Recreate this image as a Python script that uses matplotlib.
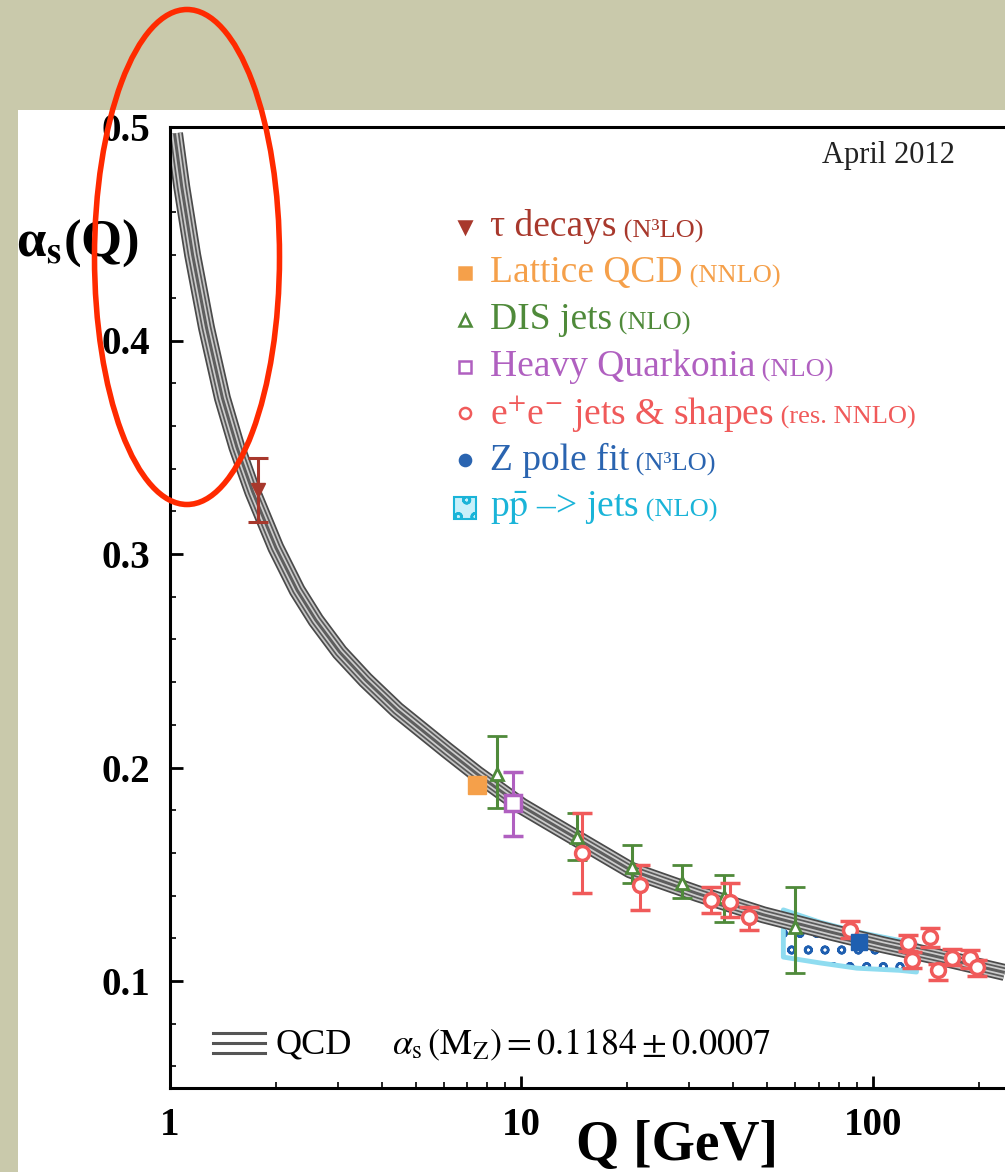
import matplotlib
matplotlib.use("Agg")
import matplotlib.pyplot as plt
from matplotlib.patches import Rectangle, Ellipse
from matplotlib.offsetbox import TextArea, HPacker, AnnotationBbox

plt.rcParams['font.family'] = ['Liberation Serif', 'DejaVu Serif']
plt.rcParams['mathtext.fontset'] = 'stix'
plt.rcParams['hatch.linewidth'] = 1.8

# QCD running coupling band
q_curve = [1.03, 1.08, 1.16, 1.27, 1.41, 1.55, 1.72, 2.0, 2.3, 2.6, 3.04, 3.6, 4.42,
           6.14, 7.47, 10.0, 11.8, 20.4, 31.6, 48.8, 75.4, 106.6, 147, 237]
a_curve = [0.497, 0.472, 0.440, 0.406, 0.373, 0.350, 0.329, 0.303, 0.283, 0.269, 0.254, 0.241, 0.227,
           0.208, 0.197, 0.182, 0.175, 0.152, 0.141, 0.131, 0.123, 0.117, 0.112, 0.104]

# measurements: Q, alpha_s, upper, lower
tau_q, tau_a, tau_hi, tau_lo = [1.78], [0.330], [0.345], [0.315]
lat_q, lat_a = [7.47], [0.192]
dis_q = [8.5, 14.4, 20.6, 28.6, 37.8, 60.1]
dis_a = [0.197, 0.1675, 0.1534, 0.146, 0.1393, 0.1253]
dis_hi = [0.2147, 0.1787, 0.1637, 0.1543, 0.1497, 0.144]
dis_lo = [0.181, 0.1567, 0.1459, 0.1389, 0.1276, 0.1037]
hq_q, hq_a, hq_hi, hq_lo = [9.46], [0.1834], [0.198], [0.168]
ee_q = [14.9, 21.8, 34.7, 39.2, 44.3, 86.1, 126, 129, 145, 153, 168, 189, 198]
ee_a = [0.160, 0.145, 0.138, 0.137, 0.130, 0.124, 0.1178, 0.110, 0.1206, 0.105, 0.111, 0.1108, 0.1066]
ee_hi = [0.1787, 0.1543, 0.144, 0.146, 0.1347, 0.128, 0.1215, 0.1135, 0.125, 0.108, 0.115, 0.1145, 0.110]
ee_lo = [0.1412, 0.1333, 0.1318, 0.130, 0.1239, 0.120, 0.114, 0.106, 0.116, 0.1005, 0.1075, 0.106, 0.1025]
z_q, z_a = [91.2], [0.1184]
pp_q = [55.6, 70.5, 90, 119, 133]
pp_hi = [0.1333, 0.1276, 0.123, 0.119, 0.117]
pp_lo = [0.1112, 0.1085, 0.106, 0.105, 0.1042]

legend_rows = [
    ("τ decays", " (N³LO)", "#a8382c"),
    ("Lattice QCD", " (NNLO)", "#f5a04a"),
    ("DIS jets", " (NLO)", "#4f8a3a"),
    ("Heavy Quarkonia", " (NLO)", "#b060c0"),
    (r"e$^{+}$e$^{-}$ jets & shapes", " (res. NNLO)", "#f05a5a"),
    ("Z pole fit", " (N³LO)", "#2a64b0"),
    (r"p$\bar{\rm p}$ –> jets", " (NLO)", "#1ab4d8"),
]

fig = plt.figure(figsize=(10.05, 11.72), dpi=100)
fig.patch.set_facecolor("#c9c9ab")
fig.patches.append(Rectangle((18 / 1005, 0), 1, 1 - 110 / 1172, transform=fig.transFigure,
                             facecolor="white", edgecolor="none", zorder=-10))

ax = fig.add_axes([170 / 1005, 1 - 1087.75 / 1172, 835 / 1005, 960.75 / 1172])
ax.set_xscale("log")
ax.set_xlim(1, 237.5)
ax.set_ylim(0.05, 0.5)

# pp -> jets band
ax.fill_between(pp_q, pp_lo, pp_hi, facecolor="white", edgecolor="#1f5fb0", hatch="o",
                linewidth=0, zorder=1)
ax.fill_between(pp_q, pp_lo, pp_hi, facecolor="none", edgecolor="#8fdcf0", linewidth=3.5, zorder=1)

# QCD band as striped stroke
for lw, c in [(17, "#4a4a4a"), (13.5, "#c4c4c4"), (10, "#5a5a5a"), (6.5, "#cccccc"), (3, "#5e5e5e")]:
    ax.plot(q_curve, a_curve, color=c, lw=lw * 0.72, solid_capstyle="butt",
            solid_joinstyle="round", zorder=2)

ekw = dict(elinewidth=2.2, capsize=7, capthick=2.2, zorder=4, linestyle="none")
ax.errorbar(tau_q, tau_a, yerr=[[a - l for a, l in zip(tau_a, tau_lo)], [h - a for a, h in zip(tau_a, tau_hi)]],
            fmt="v", color="#a8382c", ms=10, **ekw)
ax.plot(lat_q, lat_a, "s", color="#f5a04a", ms=13, mec="#f5a04a", zorder=4)
ax.errorbar(dis_q, dis_a, yerr=[[a - l for a, l in zip(dis_a, dis_lo)], [h - a for a, h in zip(dis_a, dis_hi)]],
            fmt="^", color="#4f8a3a", mfc="white", mew=2, ms=9, **ekw)
ax.errorbar(hq_q, hq_a, yerr=[[a - l for a, l in zip(hq_a, hq_lo)], [h - a for a, h in zip(hq_a, hq_hi)]],
            fmt="s", color="#b060c0", mfc="white", mew=2.5, ms=11, **ekw)
ax.errorbar(ee_q, ee_a, yerr=[[a - l for a, l in zip(ee_a, ee_lo)], [h - a for a, h in zip(ee_a, ee_hi)]],
            fmt="o", color="#f05a5a", mfc="white", mew=2.5, ms=10, **ekw)
ax.plot(z_q, z_a, "s", color="#1f5fb0", ms=11, zorder=5)

# axes styling
for s in ["left", "bottom", "top"]:
    ax.spines[s].set_linewidth(2.2)
ax.spines["right"].set_visible(False)
ax.set_yticks([0.1, 0.2, 0.3, 0.4, 0.5])
ax.set_yticks([0.06 + 0.02 * i for i in range(22) if abs((0.06 + 0.02 * i) * 10 % 1) > 1e-6], minor=True)
ax.set_xticks([1, 10, 100])
ax.set_xticklabels(["1", "10", "100"])
ax.set_yticklabels(["0.1", "0.2", "0.3", "0.4", "0.5"])
ax.tick_params(which="both", direction="in", top=False, right=False)
ax.tick_params(which="major", length=9, width=2, labelsize=28, pad=14)
ax.tick_params(which="minor", length=4.5, width=1.2)
for lab in ax.get_xticklabels() + ax.get_yticklabels():
    lab.set_fontweight("bold")

# legend
lx_mark, lx_text = (465 - 170) / 835, (490 - 170) / 835
row_y = [(1087.75 - y) / 960.75 for y in [227, 273, 320, 367, 413, 460, 508]]
mk = [("v", "#a8382c", "#a8382c"), ("s", "#f5a04a", "#f5a04a"), ("^", "white", "#4f8a3a"),
      ("s", "white", "#b060c0"), ("o", "white", "#f05a5a"), ("o", "#2a64b0", "#2a64b0")]
for (m, fc, ec), y in zip(mk, row_y):
    ax.plot([lx_mark], [y], m, transform=ax.transAxes, mfc=fc, mec=ec, mew=1.8, ms=8, zorder=6)
ax.add_patch(Rectangle((lx_mark - 0.013, row_y[6] - 0.011), 0.026, 0.022, transform=ax.transAxes,
                       facecolor="#c8f0fa", edgecolor="#1ab4d8", hatch="o", lw=1.5, zorder=6))
for (main, suf, c), y in zip(legend_rows, row_y):
    box = HPacker(children=[TextArea(main, textprops=dict(color=c, fontsize=27)),
                            TextArea(suf, textprops=dict(color=c, fontsize=19))],
                  align="baseline", pad=0, sep=0)
    ab = AnnotationBbox(box, (lx_text, y), xycoords="axes fraction", box_alignment=(0, 0.5),
                        frameon=False, pad=0)
    ax.add_artist(ab)

ax.text((888 - 170) / 835, (1087.75 - 156) / 960.75, "April 2012", transform=ax.transAxes,
        ha="center", va="center", fontsize=22, color="#222222")

# bottom key
for yy in [1033, 1043, 1053]:
    ax.plot([(213 - 170) / 835, (265 - 170) / 835], [(1087.75 - yy) / 960.75] * 2,
            transform=ax.transAxes, color="#555555", lw=2.2)
ax.text((275 - 170) / 835, (1087.75 - 1045) / 960.75, "QCD", transform=ax.transAxes,
        ha="left", va="center", fontsize=26)
ax.text((392 - 170) / 835, (1087.75 - 1045) / 960.75,
        r"$\alpha_{\rm s}\,({\rm M_Z}) = 0.1184 \pm 0.0007$", transform=ax.transAxes,
        ha="left", va="center", fontsize=26)

fig.text(16 / 1005, 1 - 243 / 1172, r"α$_{\mathbf{s}}$(Q)", fontsize=38, fontweight="bold",
         ha="left", va="center")
fig.text(677 / 1005, 1 - 1146 / 1172, "Q [GeV]", fontsize=40, fontweight="bold",
         ha="center", va="center")

# red annotation ellipse
fig.add_artist(Ellipse((187 / 1005, 1 - 257 / 1172), 185 / 1005, 495 / 1172, transform=fig.transFigure,
                       facecolor="none", edgecolor="#ff2a00", lw=4, zorder=10))

fig.savefig("out.png", dpi=100, facecolor=fig.get_facecolor())
